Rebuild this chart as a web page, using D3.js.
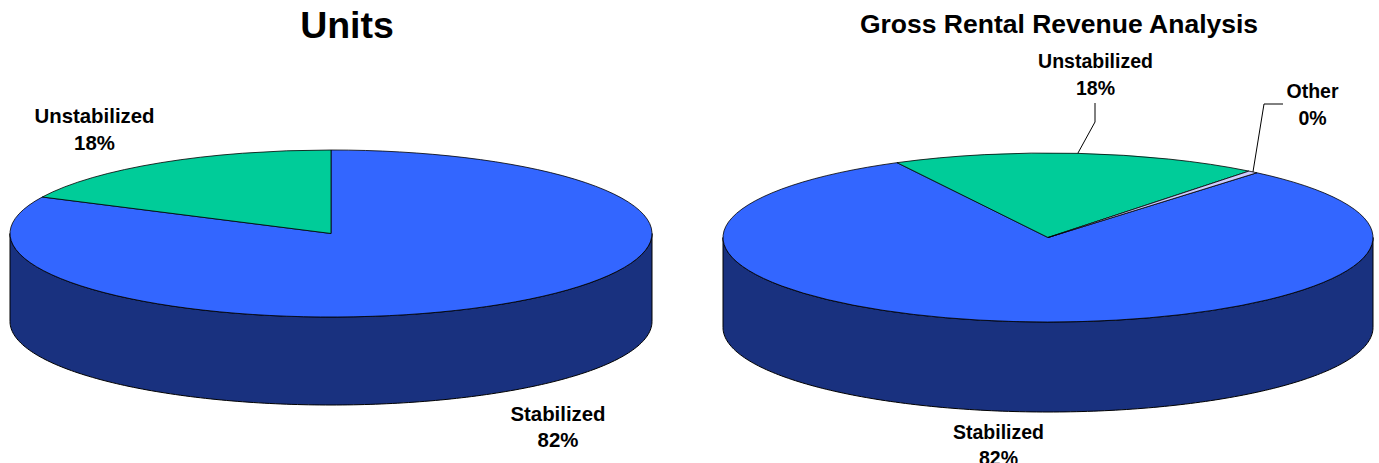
<!DOCTYPE html>
<html>
<head>
<meta charset="utf-8">
<script src="https://cdn.jsdelivr.net/npm/d3@7"></script>
<style>
html, body { margin: 0; padding: 0; background: #fff; overflow: hidden; }
svg { display: block; }
text { font-family: "Liberation Sans", Arial, sans-serif; font-weight: bold; fill: #000; text-anchor: middle; }
</style>
</head>
<body>
<svg id="viz" width="1379" height="463"></svg>
<script>
// -------------------------
// Data
// -------------------------
const unitsCategories = ["Stabilized", "Unstabilized"];
const unitsValues = [82.2, 17.8];
const unitsPercents = ["82%", "18%"];

const revenueCategories = ["Stabilized", "Unstabilized", "Other"];
const revenueValues = [81.2, 18.3, 0.5];
const revenuePercents = ["82%", "18%", "0%"];

const sliceColors = { Stabilized: "#3366ff", Unstabilized: "#00cc99", Other: "#ccccff" };
const wallColor = "#19317f";

// -------------------------
// Layout
// -------------------------
const charts = [
    {
        title: "Units", titleX: 347, titleY: 38, titleSize: 37.5, labelSize: 20.4,
        categories: unitsCategories, values: unitsValues, percents: unitsPercents,
        cx: 331, cy: 233.5, rx: 321, ry: 83.5, depth: 88, rotation: 0,
        labels: {
            Stabilized: { x: 558, y: 420.5 },
            Unstabilized: { x: 94.5, y: 123 }
        }
    },
    {
        title: "Gross Rental Revenue Analysis", titleX: 1059, titleY: 33, titleSize: 26.5, labelSize: 19.5,
        categories: revenueCategories, values: revenueValues, percents: revenuePercents,
        cx: 1048, cy: 237.5, rx: 325, ry: 84.5, depth: 90, rotation: 40,
        labels: {
            Stabilized: { x: 998.5, y: 438.5 },
            Unstabilized: { x: 1095.5, y: 68 },
            Other: { x: 1312.5, y: 98 }
        },
        leaders: {
            Unstabilized: [[1095, 103], [1095, 122]],
            Other: [[1283, 104], [1264, 104]]
        }
    }
];

const svg = d3.select("#viz");
const line = d3.line();

function drawPie(chart) {
    const g = svg.append("g");
    const rot = chart.rotation * Math.PI / 180;
    const pie = d3.pie().sort(null).startAngle(rot).endAngle(rot + 2 * Math.PI);
    const slices = pie(chart.values).map((s, i) => ({ ...s, name: chart.categories[i], percent: chart.percents[i] }));

    // clockwise angle from 12 o'clock, squashed to an ellipse
    const px = a => chart.cx + chart.rx * Math.sin(a);
    const py = a => chart.cy - chart.ry * Math.cos(a);

    // side wall: the front half of the ellipse and the same half dropped by depth
    const front = d3.range(90, 270.5, 1).map(d => d * Math.PI / 180);
    const wall = front.map(a => [px(a), py(a)])
        .concat(front.slice().reverse().map(a => [px(a), py(a) + chart.depth]));
    g.append("path")
        .attr("d", line(wall) + "Z")
        .attr("fill", wallColor)
        .attr("stroke", "#000")
        .attr("stroke-width", 1);

    // top face
    const arc = d3.arc().innerRadius(0).outerRadius(chart.rx);
    g.append("g")
        .attr("transform", `translate(${chart.cx},${chart.cy}) scale(1,${chart.ry / chart.rx})`)
        .selectAll("path")
        .data(slices)
        .enter()
        .append("path")
        .attr("d", arc)
        .attr("fill", d => sliceColors[d.name])
        .attr("stroke", "#000")
        .attr("stroke-width", 0.8)
        .attr("stroke-linejoin", "round")
        .attr("vector-effect", "non-scaling-stroke");

    // labels
    slices.forEach(d => {
        const pos = chart.labels[d.name];
        const t = g.append("text").attr("font-size", chart.labelSize);
        t.append("tspan").attr("x", pos.x).attr("y", pos.y).text(d.name);
        t.append("tspan").attr("x", pos.x).attr("y", pos.y + 26.5).text(d.percent);

        const leader = chart.leaders && chart.leaders[d.name];
        if (leader) {
            const mid = (d.startAngle + d.endAngle) / 2;
            g.append("path")
                .attr("d", line(leader.concat([[px(mid), py(mid)]])))
                .attr("fill", "none")
                .attr("stroke", "#000")
                .attr("stroke-width", 1);
        }
    });

    g.append("text")
        .attr("x", chart.titleX)
        .attr("y", chart.titleY)
        .attr("font-size", chart.titleSize)
        .text(chart.title);
}

charts.forEach(drawPie);
</script>
</body>
</html>
